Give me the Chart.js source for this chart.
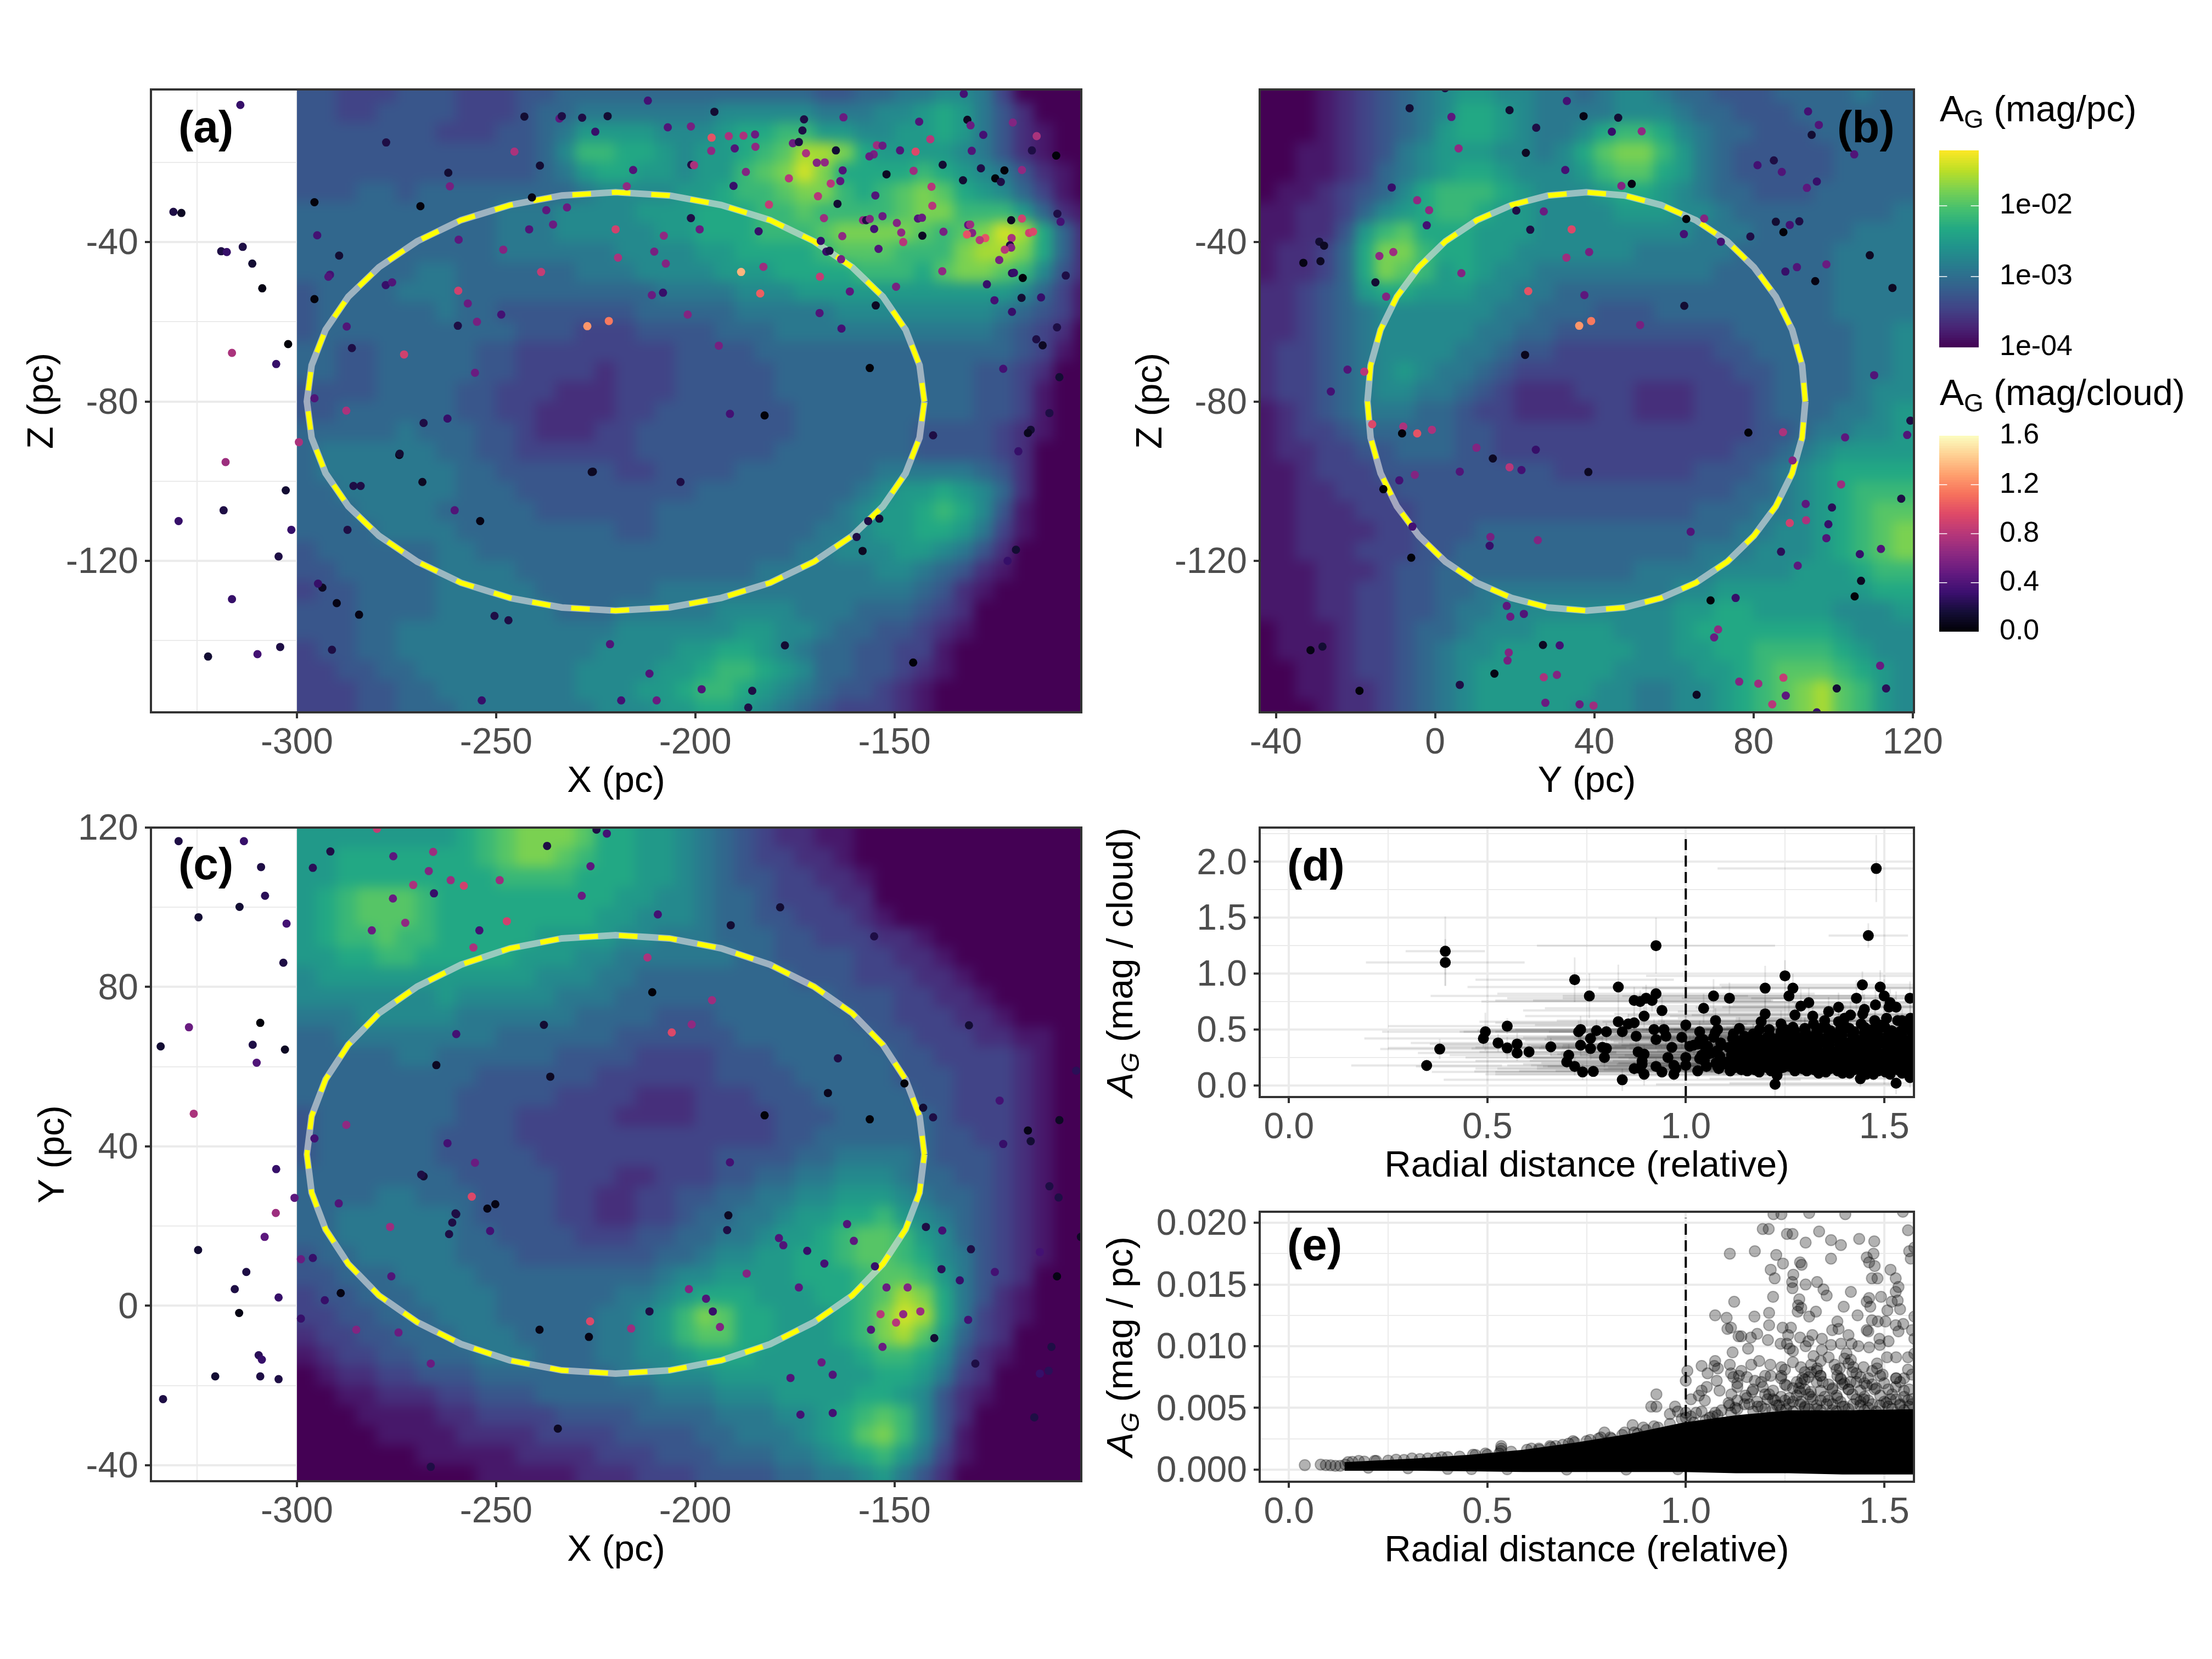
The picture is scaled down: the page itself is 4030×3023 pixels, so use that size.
<!DOCTYPE html>
<html>
<head>
<meta charset="utf-8">
<title>Extinction maps</title>
<style>
html, body { margin: 0; background: #fff; }
#page { position: relative; width: 4030px; height: 3023px; overflow: hidden; background: #fff; }
canvas { position: absolute; }
.heat { position: absolute; overflow: hidden; }
</style>
<script src="https://cdn.jsdelivr.net/npm/chart.js@4/dist/chart.umd.js"></script>
</head>
<body>
<div id="page"></div>
<script>
// heat maps: one hex digit per 5 pc cell, 0 = 1e-4 mag/pc ... f = top of the colour bar
const heatXZ = [
"4433344433 3445555555 5555554455 6677630000",
"4433444433 3455666666 6777776667 7898642000",
"4444444333 4456888877 7899aa8877 8898642100",
"4444444444 4457aa9987 889abddc98 8887642100",
"4444444444 4456899887 88abcec999 9a98764210",
"4445545555 5555677778 89aabcca9a bcb9875310",
"5555555555 6667777888 999aabaaaa bccaaa8521",
"5555555555 6667777788 999aaabccc cbabced952",
"5555555555 6666667777 889999abbb aaacddc952",
"5555556655 5555666777 78889999aa a9bccba742",
"4555566655 5555555566 6677788888 8888887531",
"4555555655 4444444555 5566666777 7777765431",
"4555555555 5444333444 4555666666 6666654320",
"5544555554 4333333334 4445555555 5555554310",
"5544555554 4333323334 4444555555 5555443200",
"4444555544 3332223334 4444555555 5555443100",
"4455555544 3322223344 4444455555 5555443100",
"5555565554 4322233444 4444455555 5444432100",
"5666666554 4333333444 4444555555 5444432000",
"5666666655 4444443344 4455555556 6666542000",
"5566666655 5444444444 5555555567 8898752000",
"5556666555 5544444455 5555555678 89a9741000",
"5555666655 5555554455 5555556678 8998631000",
"4555555665 5555555555 5555566777 8876420000",
"4455555666 6555555555 5556666667 7654210000",
"3445555666 6655555566 6666666666 6542100000",
"4445555666 6665556666 6777766655 5432000000",
"4445566666 6666667777 7788776554 4321000000",
"3445566666 6666677778 8998765544 3310000000",
"3344556666 6666777788 9aa9875544 3210000000",
"3334455666 6666777889 aa98765443 2100000000",
"3334455566 6666677788 9987654333 2100000000"
];
const heatYZ = [
"0001234567 8877665677 6554445555655",
"0001234567 9987666677 7655444555555",
"0001234568 998766 79aa 9765544455555",
"0011234678 887767 9bcc a865444445555",
"0011235678 998777 8abb 9865444445555",
"011234579a aa98777899 8765544455555",
"112235789a a988777788 8776555555556",
"112248ab99 9888777777 7766655555666",
"122359cca9 9887777776 6666555556666",
"122359cba8 9877666666 6665555556666",
"2234589988 8776655555 5555555556666",
"2234567777 7766555444 5555555556666",
"2234567777 7665544444 4444555555667",
"2334567777 6654433333 3334455555667",
"2334567876 6543333333 3333445555667",
"2334567766 5432223332 2233345555677",
"1234566655 4332222332 2233345556678",
"1233455555 4433333333 3333344566778",
"1223344555 4433333333 3333445678888",
"1123334444 4444433333 3344456789999",
"1122333444 4444444444 4444556789aaa",
"1122233344 4444444444 4455566789abb",
"1122223344 4555555555 5555667789abc",
"1122233344 5555555555 5566677789abc",
"1112223445 5555555556 66677778889aa",
"1112233445 5666666666 6778888888899",
"1112233445 6677777777 7889988887778",
"0111233455 6777888877 7899999998777",
"0111233456 7788888887 78899aaaa9877",
"0011233456 7888888877 77889abbba987",
"0011223456 7888888776 67789abcdba87",
"0001223456 7888887776 67789abcdba87"
];
const heatXY = [
"888888889a bcccb99887 6543221100 0000000000",
"889999999a bccba99887 6543322100 0000000000",
"8899999999 aaaa999887 6544332210 0000000000",
"89abbba999 9999998877 6554333220 0000000000",
"89abbba999 9999988777 6554433321 0000000000",
"89aabaa999 9988887766 6555443332 2100000000",
"8899aa9999 9888776666 6655444433 2210000000",
"7888888888 8877766555 5555544433 3221000000",
"7777777877 7776665555 5555555444 3322100000",
"6667777766 6666555544 4555555544 3332210000",
"5566666666 5555554444 4455555554 4333221100",
"5555566555 5554444333 3444555555 4433332100",
"5555555554 4444433333 3444455555 4443332100",
"5555555544 4443333222 3334445555 5443332100",
"4555555544 4333332222 3333444555 5543332100",
"4555555444 4333333333 3333445555 5544332100",
"4555555444 4433333333 3444455666 6544432100",
"5555555544 4443332233 3445566777 6554432100",
"5555665554 4443322334 4556677888 7655432100",
"5566666654 4443322334 556678899a 8765432100",
"5566666655 4444333445 5667889abb a875432100",
"4556666655 5444444455 6778899abb a976432100",
"4455566665 5555555567 78888999ab ba86432000",
"3445556666 5555556678 99988899ab dc96421000",
"3344555666 555556678a cb998889ac ed96321000",
"2334455566 655556678a bb998889ac db85320000",
"1233445556 6655566778 999888889a a974210000",
"0122334445 5555556677 7888888889 9863200000",
"0011222334 4455555566 6777888899 8742100000",
"0001111223 3334444555 56667789ab a742000000",
"0000111122 2233334444 55666789bc a741000000",
"0000001111 1222233344 455566789a 8631000000",
"0000000001 1111222333 4444556678 6420000000"
];

// clouds: [position, position, A_G in mag/cloud]
const cloudsXZ = [
[-314.2,-5.6,.3],[-331,-32.4,.2],[-329,-32.7,.1],[-319,-42.3,.2],[-317.6,-42.5,.3],[-313.6,-41.2,.2],[-311.2,-45.4,.15],[-308.7,-51.6,.05],
[-302.2,-65.6,.02],[-316.3,-67.8,.75],[-305.2,-70.6,.3],[-317.9,-95.2,.7],[-295.6,-30,.03],[-269,-31,.03],[-294.9,-38.3,.35],[-289.4,-43.4,.15],
[-291.7,-48.2,.35],[-292.1,-48.7,.4],[-277.7,-50.8,.3],[-276.1,-50.1,.4],[-295.6,-54.3,.03],[-287.5,-61.2,.4],[-286.2,-66.6,.2],[-273.1,-68.2,.9],
[-277.6,-15,.2],[-245.4,-17.3,.75],[-262,-22.6,.15],[-261.6,-26,.55],[-242.9,-8.5,.15],[-234.1,-9,.45],[-233.5,-8.4,.2],[-228.4,-8.8,.2],[-222,-8.4,.15],
[-225.1,-12.3,.3],[-211.9,-4.5,.35],[-206.9,-11.2,.4],[-239,-20.8,.15],[-215.6,-21.9,.4],[-217.2,-26,.65],[-241,-28.8,.05],[-237.4,-32,.45],[-232.2,-31.3,.5],
[-235.7,-35.6,.5],[-241.7,-36.8,.4],[-259.4,-39.4,.45],[-248.2,-41.9,.6],[-220,-36.8,.9],[-207.9,-38.4,.65],[-210.3,-42.4,.55],[-219.4,-43.9,.75],
[-207.4,-45.4,.6],[-238.7,-47.5,.85],[-259.5,-52.2,.9],[-257.1,-55.4,.5],[-248.7,-58.2,.35],[-254.8,-60,.55],[-259.6,-61,.2],[-227.1,-61.1,1.25],[-221.7,-59.8,1.15],
[-210.9,-53.3,.5],[-208.1,-52.7,.3],[-201.9,-58.2,.6],[-255.3,-72.8,.5],[-295.6,-79.2,.4],[-287.6,-82.3,.75],[-262.2,-84.3,.3],[-268.2,-85.4,.2],[-299.5,-90.2,.75],
[-274.3,-93.4,.05],[-225.7,-97.6,.1],[-132.6,-2.8,.35],[-195.2,-7.3,.15],[-172.7,-9.2,.2],[-162.8,-8.7,.5],[-143.8,-9.8,.4],[-131.7,-9.3,.1],[-130.9,-10.7,.5],
[-120.3,-10,.6],[-201.1,-11,.55],[-185,-13,.5],[-187.9,-13.3,.75],[-191.6,-13.4,.75],[-195.9,-13.8,1],[-173.1,-12,.2],[-127.7,-13.1,.35],[-114.3,-13.4,.75],
[-141,-14.2,.8],[-175.5,-15.2,.5],[-174,-14.9,.2],[-154.4,-15.7,.7],[-153,-15.8,.5],[-196,-17.1,.65],[-190.1,-16.5,.4],[-184.9,-16.1,.65],[-172.2,-17.7,.75],
[-164.7,-17,.15],[-148.6,-17,.4],[-144.7,-17.3,.95],[-130.6,-17.1,.4],[-115.5,-17,.2],[-109.4,-18.3,.02],[-155.2,-18,.55],[-156.3,-18.5,.5],[-169.5,-20.1,.6],
[-167.5,-20,.65],[-201,-20.6,.2],[-200.3,-20.7,.75],[-137.9,-20.6,.15],[-128.3,-21.5,.2],[-163,-22,.4],[-187.3,-22.4,.6],[-145.2,-22.1,.7],[-122.4,-22,.02],
[-118,-21.9,.65],[-152,-23,.1],[-176.5,-24,.8],[-163.6,-24.7,.45],[-166,-25.3,.8],[-132.8,-24.5,.15],[-124.7,-24,.02],[-123.3,-24.9,.2],[-190.4,-25.9,.3],
[-140.7,-26.1,.8],[-154.8,-28.3,.4],[-169.2,-28.5,.8],[-181.5,-30.6,.85],[-164.3,-30.4,.15],[-140.5,-30.9,.8],[-109.1,-32.9,.2],[-108.3,-34.9,.35],[-201.1,-34,.2],
[-167.7,-34,.7],[-153,-33.5,.5],[-157.9,-34.5,.65],[-157.1,-34.5,.2],[-156.2,-34.2,.6],[-144.1,-34.1,.4],[-143.1,-33.9,.5],[-149.4,-35.2,.6],[-120.7,-34.5,.1],
[-118,-34.1,.9],[-131.5,-35.7,.45],[-131,-35.6,.7],[-155.1,-36.7,.35],[-137.7,-37.4,.55],[-198.9,-36.8,.5],[-184.1,-37.3,.3],[-148.3,-37.6,.65],[-130.5,-37.7,.6],
[-116.2,-37.7,.9],[-115.2,-37.4,.95],[-131.8,-38.1,1],[-163.1,-38.5,.65],[-143,-38.4,.1],[-127.2,-39,1],[-128.6,-39.5,.8],[-120.6,-39,.75],[-147.8,-40,.8],
[-168.5,-39.7,.3],[-121,-40.8,.2],[-120.7,-41.4,.6],[-122.3,-41.9,.8],[-154,-41.7,.4],[-167.1,-42.4,.3],[-166.3,-42.2,.2],[-163.4,-44.3,.55],[-123.7,-44.5,.55],
[-182.9,-46.2,.7],[-188.5,-47.5,1.35],[-138,-47.3,.65],[-120.5,-47.8,.25],[-120,-47.7,.3],[-107,-48.4,.2],[-117.8,-49,.02],[-168.7,-48.7,.85],[-126.8,-50.6,.3],
[-149.6,-51.2,.55],[-161.2,-52.4,.45],[-183.7,-52.9,1.05],[-124.9,-54.6,.35],[-118.1,-54,.15],[-113.2,-53.9,.3],[-154.7,-55.9,.1],[-168.8,-57.8,.4],[-120.5,-57.5,.3],
[-163.3,-61.7,.35],[-109.2,-61.4,.2],[-114.4,-64.4,.2],[-112.8,-65.9,.1],[-194.1,-66,.55],[-156.2,-71.6,.02],[-122.7,-71.8,.35],[-108.6,-73.9,.15],[-191.3,-83.1,.35],
[-182.6,-83.5,.02],[-111.1,-82.9,.2],[-140.3,-88.5,.2],[-115.8,-87.1,.15],[-116.5,-87.9,.08],[-118.9,-92.5,.3],
[-318.4,-107.3,.2],[-329.7,-110,.3],[-302.8,-102.3,.15],[-301.4,-112.2,.3],[-304.6,-118.9,.2],[-316.3,-129.6,.3],[-293.6,-126.7,.1],[-290,-130.6,.05],[-294.7,-125.7,.3],
[-284.4,-133.5,.05],[-322.3,-144,.15],[-309.9,-143.4,.35],[-304.2,-141.6,.2],[-291.2,-142.3,.2],[-284,-101.2,.2],[-285.8,-101.2,.2],[-268.5,-100.2,.1],[-274.2,-93.1,.15],
[-260.4,-107.3,.4],[-254,-110,.05],[-287.3,-112.2,.2],[-250.4,-133.8,.2],[-246.9,-134.9,.2],[-253.6,-155,.3],[-221.4,-140.9,.4],[-211.5,-148.3,.4],[-218.6,-155,.35],
[-209.7,-155,.5],[-198.4,-152.2,.4],[-186.7,-156.8,.2],[-185.7,-152.6,.2],[-177.5,-141.2,.15],[-226,-97.7,.1],[-203.7,-100.2,.2],[-156.6,-110,.2],[-153.8,-109.4,.15],
[-159.5,-114,.2],[-158,-117.5,.1],[-145.3,-145.5,.02],[-121.6,-120,.3],[-119.5,-117.2,.15]
];
const cloudsYZ = [
[2.5,-1.4,.2],[33.1,-4.6,.35],[-6.4,-6.4,.15],[18.7,-6.9,.15],[4.1,-8.6,.45],[37.3,-8.4,.05],[46,-8.8,.15],[25.4,-11.3,.2],[44.4,-12.3,.3],[51.9,-12.2,.65],
[93.7,-7.2,.35],[96.4,-10.6,.4],[94.6,-13.1,.15],[105.3,-18,.4],[5.9,-16.5,.65],[22.8,-17.6,.1],[32.7,-21.9,.35],[81,-20.7,.35],[85.1,-19.5,.2],[87.1,-22.4,.4],
[49.4,-25.4,.05],[46.8,-25.9,.6],[95.9,-24.8,.3],[93.4,-26.4,.45],[-10.9,-26.3,.3],[-4.5,-29.5,.65],[-1.5,-32,.65],[20.4,-32.1,.2],[27.3,-32.3,.5],[-2.1,-35.8,.35],
[23.9,-36.9,.2],[34.3,-36.8,.95],[63.1,-34.2,.02],[67.6,-34.1,.6],[85.6,-34.9,.15],[89.1,-35.7,.35],[91.5,-34.8,.2],[87.5,-37.5,.02],[62.5,-38,.35],[79.2,-38.6,.2],
[71.8,-39.9,.35],[-29.1,-39.9,.15],[-27.9,-40.9,.1],[-28.8,-44.8,.1],[-33.1,-45.2,.05],[-10.5,-42.5,.7],[-14,-43.5,.65],[33,-43.9,.7],[38.7,-42.5,.55],[109.2,-43.3,.1],
[98.3,-45.6,.5],[90.9,-46.3,.4],[88,-47.4,.3],[6.6,-47.8,.6],[-15,-50.1,.15],[95.5,-49.8,.05],[114.9,-51.5,.1],[-12.3,-53.7,.6],[23.4,-52.3,1],[37.5,-53.3,.45],
[62.6,-56,.15],[39.2,-59.8,1.15],[36.2,-61,1.25],[51.5,-60.8,.55],[22.6,-68.3,.08],[-22,-72,.4],[-17.8,-72.5,.8],[110.3,-73.4,.4],[-26.2,-77.5,.35],[119.4,-84.8,.2],
[-15.8,-85.7,.95],[-8,-86.3,.75],[-.8,-87.1,.75],[-4.5,-88,1],[-8.3,-88,.02],[78.7,-87.8,.02],[87.4,-87.7,.75],[103,-89,.45],[118.6,-88.4,.4],[10.4,-91.6,.6],
[25.3,-92.1,.3],[14.5,-94.3,.1],[18.7,-96.5,.8],[21.7,-97.2,.35],[89.8,-94.8,.6],[6.2,-97.6,.4],[38.5,-97.7,.1],[-5.1,-98.4,.6],[-9,-99.8,.35],[-13,-102,.02],
[102,-100.8,.7],[117.1,-104.4,.2],[93.1,-105.7,.45],[99.7,-106.6,.25],[89.1,-110.5,.9],[93.2,-109.8,.75],[98.8,-110.8,.3],[-5.7,-111.4,.35],[64.2,-112.7,.4],[13.9,-114,.55],
[98.3,-114.3,.4],[25.8,-114.8,.6],[13.7,-116.2,.3],[112,-117,.4],[86.9,-117.7,.25],[106.7,-118.3,.3],[-6,-119.2,.02],[91.1,-121.2,.45],[107,-125,.1],[69.2,-129.9,.02],
[75.5,-129.3,.3],[105.4,-128.9,.02],[18,-131.3,.45],[22.3,-133.3,.4],[18.9,-134,.5],[71.1,-137.2,.65],[70.1,-139.2,.5],[-28.3,-141.5,.15],[-31.3,-142.4,.05],[27.1,-141.1,.1],
[31.3,-141.2,.35],[18.5,-143,.6],[18.2,-145,.55],[14.9,-148.3,.05],[6.2,-151.1,.2],[-19,-152.6,.02],[27.3,-149.2,.75],[30.6,-148.6,.6],[76.4,-150.3,.6],[81.2,-150.8,.7],
[87.5,-149.3,.85],[88.1,-153.8,.45],[100.9,-152,.15],[111.8,-146.3,.5],[113.3,-152,.25],[65.7,-153.6,.1],[27.7,-155.6,.5],[36.3,-156,.5],[39.8,-156.3,.7],[84.7,-156,.8],[95.9,-158,.3]
];
const cloudsXY = [
[-329.7,116.6,.2],[-313.3,116.6,.3],[-309,110.1,.2],[-308,102.9,.25],[-314.4,100.1,.15],[-324.7,97.5,.15],[-302.6,95.9,.35],[-303.4,86.1,.2],[-309.2,71,.02],[-327.1,69.9,.5],
[-311.1,65.5,.2],[-334.2,65.1,.15],[-303,64.3,.1],[-310.1,61,.4],[-325.9,48.2,.75],[-305.2,34.3,.3],[-300.6,27.1,.45],[-305.3,23.3,.7],[-279.9,119.7,.85],[-291.6,114,.2],
[-296,109.9,.25],[-275.8,112.8,.45],[-265.8,113.9,.7],[-266.9,109.1,.6],[-270.8,105.6,.75],[-261.4,106.8,.7],[-258.1,105.4,.9],[-249.1,106.8,.7],[-265.6,103.5,.3],[-275.9,102.2,.5],
[-272.8,96.1,.65],[-281.2,94.2,.5],[-254.2,94.2,.35],[-247.3,96.5,.9],[-255.7,89.9,.75],[-237.2,115.4,.2],[-224.8,119.5,.2],[-222.2,118.5,.35],[-226.3,110.3,.45],[-228.5,102.9,.5],
[-209.4,98.2,.35],[-212,87.4,.75],[-210.8,78.7,.02],[-238,70.5,.15],[-260,68.2,.35],[-265,60.4,.1],[-236.4,57.5,.1],[-205.9,68.6,.95],[-200.9,70.6,.65],[-287.6,45.4,.65],
[-295.6,42,.35],[-262.2,40.8,.35],[-255.3,35.9,.5],[-268.2,32.5,.15],[-289.5,25.7,.4],[-256.1,27.4,.95],[-250.2,25.5,.05],[-260.2,23.2,.2],[-178.7,100,.15],[-191.1,95.5,.15],
[-155.1,92.7,.2],[-195.8,76.7,.7],[-131.3,70.4,.15],[-164.2,62.1,.2],[-166.7,53.4,.08],[-147.5,55.8,.02],[-142.8,49.7,.15],[-140.3,47.3,.2],[-182.6,47.8,.02],[-156.2,46.8,.02],
[-123.6,51.5,.35],[-108.6,46.6,.1],[-116.5,44,.05],[-115.8,41.3,.15],[-122.7,40.6,.3],[-104.4,59,.25],[-191.3,36,.35],[-111.1,30,.2],[-108.8,27.2,.2],
[-308.1,17.3,.45],[-324.8,14,.15],[-312.7,8.5,.2],[-315.6,4.2,.2],[-314.5,-1.8,.05],[-320.5,-17.7,.15],[-333.6,-23.4,.2],[-309.6,-12.4,.25],[-308.8,-13.5,.3],[-309.2,-17.7,.2],
[-304.6,-18.4,.2],[-304.6,2.1,.3],[-299,11.7,.5],[-296,12,.3],[-299,-3.2,.3],[-293,1.4,.3],[-289,3.2,.05],[-276.6,19.8,.7],[-276.3,7.4,.4],[-268.8,32.9,.2],[-260,23,.2],
[-261,20.9,.2],[-261.8,18,.2],[-252.2,24.4,.05],[-251.5,18.8,.35],[-285.1,-6,.6],[-274.5,-6.7,.5],[-266.4,-14.5,.5],[-239.1,-6,.05],[-226.7,-7.8,.05],[-226.4,-3.9,.95],
[-234.5,-30.8,.1],[-216.1,-5.7,.7],[-211.5,-1.4,.2],[-191.7,22.7,.1],[-192,19,.2],[-201.6,4.2,.6],[-197.3,1.8,.4],[-195.6,-1.4,.3],[-193.8,-5.3,.6],[-187.1,8.1,.6],
[-177.9,15.2,.4],[-171.9,13.8,.3],[-179,17,.4],[-167.6,10.6,.35],[-174,4.6,.45],[-161.9,20.5,.4],[-160.2,16.3,.45],[-154.9,9.9,.3],[-152,4.6,.5],[-146.7,4.6,.6],[-153.5,-2.1,.8],
[-147.8,-2.1,.65],[-143.5,-1.4,.7],[-155.9,-6,.4],[-153,-10.3,.5],[-149.6,-4.2,.8],[-168.3,-14.2,.5],[-165.5,-17.3,.4],[-176.1,-18.1,.4],[-173.6,-27.3,.35],[-165.5,-26.9,.35],
[-142.1,19.8,.2],[-138,18.9,.35],[-130.8,14.2,.2],[-138.2,9.2,.25],[-124.8,8.5,.35],[-133.6,6.4,.3],[-131.5,-3.5,.35],[-129.7,-14.5,.2],[-140,-8.1,.15],[-113.5,13.5,.35],
[-109.2,7.4,.05],[-103.2,17.3,.1],[-110.6,-10.3,.2],[-111.3,-16.3,.25],[-113.5,-17,.3],[-114.9,-28,.2],[-266.4,-40.4,.2]
];

// shell outline, 10 degree steps
const shellX = [-142.5,-143.7,-147.2,-152.9,-160.6,-170.2,-181.2,-193.5,-206.5,-220,-233.5,-246.5,-258.8,-269.8,-279.4,-287.1,-292.8,-296.3,-297.5,-296.3,-292.8,-287.1,-279.4,-269.8,-258.8,-246.5,-233.5,-220,-206.5,-193.5,-181.2,-170.2,-160.6,-152.9,-147.2,-143.7,-142.5];
const shellY = [93,92.2,89.7,85.6,80.1,73.4,65.5,56.8,47.6,38,28.4,19.2,10.5,2.6,-4.1,-9.6,-13.7,-16.2,-17,-16.2,-13.7,-9.6,-4.1,2.6,10.5,19.2,28.4,38,47.6,56.8,65.5,73.4,80.1,85.6,89.7,92.2,93];
const shellZ = [-80,-70.9,-62,-53.7,-46.3,-39.8,-34.5,-30.7,-28.3,-27.5,-28.3,-30.7,-34.5,-39.8,-46.3,-53.7,-62,-70.9,-80,-89.1,-98,-106.3,-113.7,-120.2,-125.5,-129.3,-131.7,-132.5,-131.7,-129.3,-125.5,-120.2,-113.7,-106.3,-98,-89.1,-80];
const shellYc = [38,47.6,56.8,65.5,73.4,80.1,85.6,89.7,92.2,93,92.2,89.7,85.6,80.1,73.4,65.5,56.8,47.6,38,28.4,19.2,10.5,2.6,-4.1,-9.6,-13.7,-16.2,-17,-16.2,-13.7,-9.6,-4.1,2.6,10.5,19.2,28.4,38];

// panel d: [radial distance, A_G, x error, y error]
const radialCloud = [
[.347,.178,.19,.05],[.38,.325,.15,.09],[.394,1.2,.1,.31],[.394,1.1,.2,.21],[.495,.48,.26,.17],[.49,.42,.3,.08],[.527,.38,.22,.08],[.55,.53,.3,.07],[.55,.335,.3,.1],[.575,.37,.22,.1],
[.575,.29,.25,.07],[.605,.3,.22,.06],[.66,.345,.28,.08],[.705,.27,.3,.1],[.7,.21,.35,.06],[.72,.17,.4,.08],[.74,.12,.38,.07],[.767,.125,.3,.05],[.72,.945,.25,.2],[.757,.8,.4,.2],
[.735,.36,.36,.1],[.76,.33,.3,.1],[.76,.42,.28,.1],[.73,.48,.3,.1],[.735,.5,.25,.12],[.775,.49,.3,.1],[.8,.48,.28,.08],[.79,.34,.32,.1],[.8,.33,.25,.08],[.795,.25,.35,.09],
[.83,.57,.35,.11],[.83,.88,.38,.2],[.84,.05,.45,.1],[.84,.48,.4,.1],[.855,.55,.3,.09],[.87,.76,.35,.12],[.885,.75,.4,.1],[.9,.78,.35,.12],[.915,.76,.3,.1],[.925,.82,.4,.14],
[.925,1.25,.3,.25],[.94,.67,.35,.12],[.895,.62,.3,.1],[.87,.56,.35,.1],[.875,.44,.38,.09],[.92,.5,.35,.09],[.945,.5,.4,.08],[.95,.44,.3,.1],[.925,.41,.36,.08],[.965,.34,.4,.08],
[.88,.3,.4,.1],[.895,.28,.35,.08],[.89,.22,.42,.08],[.89,.19,.3,.07],[.885,.15,.36,.08],[.87,.15,.4,.06],[.895,.1,.4,.1],[.925,.17,.3,.07],[.94,.12,.42,.06],[.955,.25,.36,.07],
[.97,.18,.36,.07],[.97,.1,.45,.06],[.975,.15,.35,.06],[.99,.43,.4,.1],[1,.54,.38,.1],[1,.18,.45,.06],[1,.25,.4,.08],[1.01,.35,.4,.1],[1.02,.36,.42,.09],[1.03,.37,.36,.09],
[1.035,.48,.38,.1],[1.035,.4,.44,.08],[1.04,.27,.38,.08],[1.035,.24,.42,.08],[1.03,.13,.45,.07],[1.045,.69,.4,.13],[1.055,.35,.42,.09],[1.065,.29,.38,.08],[1.07,.8,.38,.15],[1.075,.58,.4,.11],
[1.08,.5,.36,.1],[1.07,.43,.42,.08],[1.09,.36,.4,.08],[1.08,.17,.44,.06],[1.1,.19,.38,.07],[1.11,.78,.42,.14],[1.12,.46,.36,.09],[1.13,.3,.44,.08],[1.14,.25,.38,.07],[1.14,.14,.42,.07],
[1.15,.2,.45,.07],[1.16,.32,.4,.08],[1.17,.45,.36,.1],[1.15,.42,.42,.09],[1.19,.57,.4,.11],[1.2,.87,.42,.2],[1.2,.64,.38,.13],[1.21,.5,.42,.1],[1.19,.38,.36,.09],[1.22,.36,.44,.08],
[1.21,.25,.38,.07],[1.23,.4,.42,.09],[1.25,.98,.35,.14],[1.26,.8,.42,.17],[1.24,.55,.4,.12],[1.27,.87,.38,.13],[1.275,.63,.42,.12],[1.25,.5,.36,.1],[1.24,.35,.42,.08],[1.26,.3,.38,.08],
[1.27,.2,.44,.07],[1.23,.09,.4,.08],[1.225,.01,.3,.12],[1.29,.71,.38,.15],[1.31,.74,.42,.13],[1.3,.5,.4,.1],[1.32,.62,.36,.12],[1.33,.48,.42,.1],[1.3,.4,.38,.09],[1.31,.25,.44,.07],
[1.33,.18,.38,.07],[1.35,.58,.42,.11],[1.36,.66,.38,.13],[1.37,.44,.42,.09],[1.38,.28,.36,.07],[1.35,.17,.44,.07],[1.385,.57,.4,.11],[1.4,.6,.42,.12],[1.385,.7,.36,.13],[1.39,.5,.42,.1],
[1.42,.39,.38,.09],[1.43,.78,.44,.16],[1.445,.9,.36,.12],[1.45,.52,.42,.1],[1.45,.68,.38,.14],[1.46,.35,.44,.08],[1.43,.22,.4,.07],[1.47,.13,.42,.07],[1.44,.06,.38,.07],[1.47,.42,.44,.09],
[1.48,1.94,.4,.3],[1.46,1.34,.1,.11],[1.49,.88,.4,.15],[1.5,.8,.38,.15],[1.515,.74,.4,.12],[1.53,.7,.42,.14],[1.565,.78,.4,.15],[1.545,.58,.42,.11],[1.565,.5,.4,.1],[1.53,.02,.42,.1],[1.565,.07,.38,.09],
[1.052,.17,.4,.06],[1.047,.22,.44,.07],[1.056,.28,.38,.07],[1.05,.33,.42,.08],[1.044,.41,.4,.09],[1.083,.15,.36,.06],[1.076,.2,.44,.07],[1.086,.26,.4,.07],[1.079,.31,.38,.08],[1.088,.38,.42,.08],[1.074,.47,.36,.1],
[1.112,.13,.44,.06],[1.106,.21,.4,.06],[1.115,.27,.38,.07],[1.108,.34,.42,.08],[1.118,.42,.4,.09],[1.144,.18,.36,.06],[1.137,.23,.44,.07],[1.146,.3,.4,.07],[1.14,.37,.38,.08],[1.148,.44,.42,.09],[1.135,.51,.38,.1],
[1.173,.14,.44,.06],[1.166,.2,.38,.06],[1.176,.26,.42,.07],[1.169,.32,.4,.07],[1.178,.39,.36,.08],[1.17,.46,.44,.09],[1.204,.16,.4,.06],[1.196,.22,.38,.07],[1.207,.28,.42,.07],[1.199,.33,.4,.08],[1.205,.43,.36,.09],
[1.233,.14,.44,.06],[1.226,.19,.4,.06],[1.236,.24,.38,.07],[1.228,.3,.42,.07],[1.238,.36,.4,.08],[1.23,.42,.36,.09],[1.24,.48,.44,.1],[1.262,.17,.4,.06],[1.255,.23,.38,.07],[1.266,.27,.42,.07],[1.258,.33,.4,.08],[1.268,.39,.36,.08],[1.26,.45,.44,.09],[1.27,.52,.4,.1],
[1.293,.15,.38,.06],[1.286,.2,.42,.06],[1.296,.26,.4,.07],[1.288,.31,.36,.07],[1.298,.37,.44,.08],[1.29,.43,.4,.09],[1.3,.51,.38,.1],[1.323,.14,.42,.06],[1.316,.19,.4,.06],[1.326,.24,.36,.07],[1.318,.29,.44,.07],[1.328,.35,.4,.08],[1.32,.41,.38,.09],[1.33,.47,.42,.1],[1.322,.55,.4,.11],
[1.353,.12,.36,.06],[1.346,.18,.44,.06],[1.356,.23,.4,.07],[1.348,.28,.38,.07],[1.358,.34,.42,.08],[1.35,.4,.4,.09],[1.36,.46,.36,.1],[1.352,.52,.44,.11],[1.383,.13,.4,.06],[1.376,.19,.38,.06],[1.386,.24,.42,.07],[1.378,.3,.4,.07],[1.388,.36,.36,.08],[1.38,.42,.44,.09],[1.39,.49,.4,.1],
[1.413,.11,.38,.06],[1.406,.17,.42,.06],[1.416,.22,.4,.06],[1.408,.27,.36,.07],[1.418,.33,.44,.08],[1.41,.38,.4,.08],[1.42,.45,.38,.09],[1.412,.51,.42,.1],[1.415,.63,.4,.12],[1.443,.12,.36,.06],[1.436,.18,.44,.06],[1.446,.23,.4,.07],[1.438,.28,.38,.07],[1.448,.34,.42,.08],[1.44,.4,.4,.09],[1.45,.47,.36,.1],[1.442,.55,.44,.11],[1.446,.64,.4,.13],
[1.473,.1,.38,.06],[1.466,.15,.42,.06],[1.476,.2,.4,.06],[1.468,.26,.36,.07],[1.478,.31,.44,.07],[1.47,.37,.4,.08],[1.48,.43,.38,.09],[1.472,.5,.42,.1],[1.476,.58,.4,.12],[1.478,.72,.36,.14],[1.503,.12,.44,.06],[1.496,.17,.4,.06],[1.506,.22,.38,.06],[1.498,.28,.42,.07],[1.508,.33,.4,.08],[1.5,.39,.36,.08],[1.51,.45,.44,.09],[1.502,.52,.4,.11],[1.506,.6,.38,.12],[1.512,.7,.42,.13],
[1.533,.14,.4,.06],[1.526,.19,.36,.06],[1.536,.24,.44,.06],[1.528,.3,.4,.07],[1.538,.36,.38,.08],[1.53,.42,.42,.09],[1.54,.48,.4,.1],[1.534,.58,.36,.11],[1.563,.13,.44,.06],[1.556,.18,.4,.06],[1.566,.23,.38,.06],[1.558,.29,.42,.07],[1.568,.35,.4,.08],[1.56,.4,.36,.08],[1.57,.47,.44,.1],[1.562,.52,.4,.1],[1.566,.6,.38,.12]
];
// the solid part of panel d, points there cannot be told apart
const radialDense = [
[1.125,.16],[1.122,.24],[1.128,.36],[1.124,.41],[1.155,.13],[1.158,.17],[1.153,.27],[1.156,.35],[1.152,.4],[1.185,.12],[1.182,.18],[1.188,.24],[1.184,.3],[1.187,.36],[1.183,.42],[1.186,.5],
[1.215,.13],[1.218,.19],[1.213,.31],[1.216,.38],[1.212,.44],[1.245,.16],[1.248,.21],[1.243,.27],[1.246,.33],[1.242,.44],[1.275,.13],[1.278,.18],[1.273,.24],[1.276,.29],[1.272,.36],[1.277,.42],[1.274,.49],
[1.305,.13],[1.308,.17],[1.303,.22],[1.306,.29],[1.302,.34],[1.307,.4],[1.304,.46],[1.335,.11],[1.338,.16],[1.333,.21],[1.336,.27],[1.332,.32],[1.337,.38],[1.334,.44],[1.339,.51],
[1.365,.15],[1.368,.2],[1.363,.26],[1.366,.31],[1.362,.37],[1.367,.43],[1.364,.49],[1.395,.11],[1.398,.16],[1.393,.21],[1.396,.27],[1.392,.33],[1.397,.39],[1.394,.45],[1.399,.54],
[1.425,.14],[1.428,.2],[1.423,.25],[1.426,.3],[1.422,.36],[1.427,.42],[1.424,.48],[1.455,.1],[1.458,.16],[1.453,.21],[1.456,.27],[1.452,.32],[1.457,.38],[1.454,.44],[1.459,.5],
[1.485,.13],[1.488,.18],[1.483,.23],[1.486,.29],[1.482,.35],[1.487,.41],[1.484,.46],[1.489,.54],[1.515,.1],[1.518,.15],[1.513,.2],[1.516,.26],[1.512,.31],[1.517,.37],[1.514,.42],[1.519,.49],
[1.545,.11],[1.548,.16],[1.543,.22],[1.546,.27],[1.542,.33],[1.547,.39],[1.544,.45],[1.549,.52],[1.575,.1],[1.572,.15],[1.574,.2],[1.571,.26],[1.573,.32],[1.575,.38],[1.572,.44],[1.574,.55],
[1.13,.2],[1.16,.23],[1.19,.28],[1.21,.18],[1.25,.38],[1.28,.34],[1.31,.36],[1.34,.24],[1.37,.22],[1.4,.29],[1.43,.34],[1.46,.24],[1.49,.26],[1.52,.34],[1.55,.3]
];

// panel e: dense band edges, then the single pixels that can be told apart
const bandR = [.14,.32,.457,.59,.725,.86,.993,1.127,1.26,1.395,1.58];
const bandTop = [.0006,.0009,.0012,.0016,.0022,.0029,.0038,.0044,.0048,.0048,.0049];
const bandBottom = [.0001,.0001,.00005,0,0,0,0,-.0001,-.0001,-.0002,-.0002];
const pixels = [
[1.221,.0207],[1.241,.0207],[1.311,.0208],[1.402,.0207],[1.547,.0209],[1.194,.0195],[1.209,.0195],[1.255,.0191],[1.269,.0191],[1.336,.0193],[1.56,.0194],[1.302,.0184],[1.366,.0186],[1.391,.0182],[1.437,.0187],[1.475,.0185],
[1.111,.0175],[1.174,.0177],[1.228,.0174],[1.366,.0171],[1.456,.0172],[1.473,.0175],[1.563,.0177],[1.576,.018],[1.567,.0171],[1.214,.0162],[1.245,.0167],[1.288,.0168],[1.292,.0166],[1.462,.0168],[1.476,.0165],[1.516,.0162],
[1.224,.0155],[1.271,.0158],[1.268,.0152],[1.269,.0147],[1.302,.015],[1.331,.0152],[1.347,.0146],[1.355,.0141],[1.416,.0144],[1.529,.0155],[1.469,.0155],[1.483,.0155],[1.536,.0148],[1.529,.0144],[1.22,.014],[1.122,.0136],
[1.286,.0138],[1.283,.0133],[1.398,.0132],[1.462,.0139],[1.456,.0136],[1.492,.014],[1.519,.0136],[1.534,.0137],[1.465,.0132],[1.508,.0129],[1.54,.013],[1.282,.0128],[1.291,.0131],[1.311,.0124],[1.328,.0128],[1.21,.0127],
[1.173,.0124],[1.074,.0125],[1.103,.0123],[1.433,.0125],[1.382,.012],[1.576,.0124],[1.21,.0117],[1.114,.0115],[1.105,.0114],[1.244,.0115],[1.265,.0115],[1.319,.0109],[1.369,.0113],[1.385,.0114],[1.456,.0113],[1.46,.0112],
[1.469,.0121],[1.484,.012],[1.503,.012],[1.529,.0117],[1.548,.0118],[1.536,.0112],[1.57,.0113],[1.133,.0108],[1.14,.0108],[1.18,.011],[1.258,.0109],[1.164,.0107],[1.207,.0105],[1.288,.0107],[1.309,.0104],[1.343,.0106],
[1.41,.0109],[1.488,.0106],[1.511,.0104],[1.576,.0106],[1.157,.0098],[1.118,.0095],[1.239,.0102],[1.255,.0102],[1.262,.0098],[1.302,.01],[1.322,.0092],[1.343,.0097],[1.366,.0101],[1.391,.0102],[1.418,.0102],[1.435,.01],
[1.462,.0099],[1.489,.0101],[1.405,.0094],[1.416,.0089],[1.507,.0091],[1.53,.0091],[1.56,.0091],[1.576,.0094],[1.04,.0084],[1.074,.0088],[1.072,.0084],[1.081,.0082],[1.055,.0078],[1.004,.008],[1,.0072],[1.111,.0085],
[1.165,.0085],[1.185,.0088],[1.213,.0085],[1.241,.0083],[1.27,.0096],[1.27,.0087],[1.316,.0085],[1.331,.0082],[1.316,.0079],[1.375,.0085],[1.388,.0082],[1.422,.0083],[1.448,.0083],[1.482,.0086],[1.482,.0082],[1.496,.0077],
[1.53,.0074],[1.55,.0074],[1.57,.0077],[1.114,.0078],[1.134,.0076],[1.154,.0075],[1.174,.0072],[1.214,.0076],[1.241,.0076],[1.28,.0071],[1.294,.0074],[1.339,.0076],[1.382,.0076],[1.391,.0073],[1.45,.007],[1.456,.0068],
[1.415,.0071],[1.078,.0072],[1.053,.0067],[1.04,.0064],[1.033,.006],[1.13,.0067],[1.085,.0064],[1.115,.0061],[1.048,.0056],[1.013,.0057],[.926,.0061],[.913,.0051],[.926,.0051],[.973,.0051],[.96,.0045],[.98,.0047],
[1,.0042],[1.013,.0043],[1.167,.0063],[1.194,.0067],[1.254,.0068],[1.288,.0063],[1.315,.0063],[1.369,.0065],[1.41,.0065],[1.476,.0065],[1.529,.0067],[1.563,.0065],[1.154,.0058],[1.206,.0057],[1.261,.0058],[1.315,.0059],
[1.382,.0058],[1.448,.0057],[1.516,.0057],[1.57,.0057],[1.074,.0046],[1.114,.0046],[1.148,.0053],[1.181,.0051],[1.235,.0052],[1.288,.0053],[1.355,.0053],[1.422,.0053],[1.489,.0052],[1.563,.0051],[1.04,.0047],[1.067,.0043],
[1.026,.0046],[1.108,.0054],[1.125,.005],[1.2,.0061],[1.225,.0056],[1.27,.0055],[1.3,.005],[1.34,.0056],[1.395,.0051],[1.44,.0055],[1.46,.005],[1.505,.0054],[1.54,.0053],[1.218,.0048],[1.253,.0049],[1.33,.0049],[1.37,.0048],
[.866,.0036],[.92,.0035],[.893,.0034],[.795,.003],[.846,.003],[.879,.0029],[.716,.0023],[.759,.0024],[.786,.0026],[.813,.0025],[.672,.0019],[.705,.0021],[.535,.0019],[.535,.0017],[.611,.0017],[.631,.0016],[.658,.0019],
[.495,.0013],[.464,.0012],[.534,.0015],[.385,.001],[.35,.0009],[.31,.0009],[.27,.0008],[.216,.0007],[.176,.0007],[.149,.0006],[.04,.00036],[.08,.0004],[.093,.00036],[.105,.00034],[.117,.0003],[.129,.0003],[.142,.0004],
[.2,.00015],[.3,.0001],[.4,.00005],[.46,.00003],[.55,.00002],[.7,0],[.85,0],[.98,.00002]
];
const pixelsBand = [
[.16,.00062],[.19,.00065],[.22,.0007],[.25,.00072],[.29,.00078],[.33,.00085],[.37,.00092],[.4,.001],[.43,.00105],[.47,.00118],[.5,.0012],[.53,.0013],[.56,.00145],[.6,.0016],[.63,.0017],[.66,.0018],[.69,.002],[.72,.0022],[.75,.0023],[.78,.0025],[.81,.0026],[.84,.0028],[.87,.003],[.9,.0032],[.93,.0034],[.96,.0037],[.99,.0041],[1,.0046],[1.02,.0038],[1.05,.004],[1.06,.0042],[1.08,.0044],
[1.09,.0048],[1.13,.0049],[1.17,.0047],[1.2,.0049],[1.24,.0048],[1.27,.0047],[1.31,.0049],[1.34,.0048],[1.38,.0047],[1.41,.0049],[1.45,.0048],[1.48,.0047],[1.52,.0049],[1.55,.0048],
[1.11,.0052],[1.16,.0053],[1.19,.0051],[1.23,.0052],[1.26,.0053],[1.3,.0051],[1.33,.0052],[1.37,.0053],[1.4,.0051],[1.44,.0052],[1.47,.0053],[1.51,.0051],[1.54,.0052],[1.57,.0053],
[1.13,.0056],[1.18,.0055],[1.22,.0057],[1.25,.0056],[1.29,.0055],[1.32,.0057],[1.36,.0056],[1.39,.0055],[1.43,.0057],[1.46,.0056],[1.5,.0055],[1.53,.0057],[1.56,.0056],
[1.15,.006],[1.21,.0061],[1.24,.0059],[1.28,.006],[1.31,.0061],[1.35,.0059],[1.38,.006],[1.42,.0061],[1.45,.0059],[1.49,.006],[1.52,.0061],[1.55,.0059],
[1.17,.0065],[1.22,.0064],[1.27,.0066],[1.3,.0065],[1.34,.0064],[1.37,.0066],[1.41,.0065],[1.44,.0064],[1.48,.0066],[1.51,.0065],[1.55,.0064],
[1.13,.007],[1.19,.0071],[1.25,.0069],[1.29,.007],[1.33,.0071],[1.36,.0069],[1.4,.007],[1.43,.0071],[1.47,.0069],[1.5,.007],[1.54,.0071],
[1.12,.0075],[1.2,.0076],[1.24,.0074],[1.31,.0075],[1.34,.0076],[1.39,.0074],[1.44,.0075],[1.49,.0076],[1.53,.0074],
[1.14,.008],[1.25,.0081],[1.3,.0079],[1.33,.008],[1.38,.0081],[1.42,.0079],[1.47,.008],[1.56,.0081],
[1.29,.0083],[1.34,.0088],[1.36,.0091],[1.4,.009],[1.41,.0086],[1.43,.0078],[1.46,.0074],[1.3,.0073],[1.285,.0066],[1.345,.0071],[1.395,.0069]
];

// axis ticks
const xTicksSun = [-300,-250,-200,-150];
const xMinorSun = [-325,-275,-225,-175,-125];
const zTicks = [-40,-80,-120];
const zMinor = [-20,-60,-100,-140];
const yTicksWide = [-40,0,40,80,120];
const yMinorWide = [-20,20,60,100];
const radialTicks = [0,.5,1,1.5];
const radialMinor = [.25,.75,1.25];
const cloudTicks = [0,.5,1,1.5,2];
const cloudMinor = [.25,.75,1.25,1.75,2.25];
const pcTicks = [0,.005,.01,.015,.02];
const pcMinor = [.0025,.0075,.0125,.0175];
const pcBarTicks = [-4,-3,-2];
const cloudBarTicks = [0,.4,.8,1.2,1.6];

const viridisStops = ['#440154','#482475','#414487','#355f8d','#2a788e','#21918c','#22a884','#44bf70','#7ad151','#bddf26','#fde725'];
const magmaStops = ['#000004','#140e36','#3b0f70','#641a80','#8c2981','#b73779','#de4968','#f7705c','#fe9f6d','#fecf92','#fcfdbf'];
const logTop = -1.217;

Chart.defaults.font.family = '"Liberation Sans", Arial, sans-serif';
Chart.defaults.animation = false;
Chart.defaults.responsive = false;
Chart.defaults.events = [];

function ramp(stops, t) {
    t = Math.max(0, Math.min(1, t)) * (stops.length - 1);
    const i = Math.min(Math.floor(t), stops.length - 2);
    const f = t - i;
    const a = stops[i], b = stops[i + 1];
    const rgb = [1, 3, 5].map(k => Math.round(parseInt(a.substr(k, 2), 16) * (1 - f) + parseInt(b.substr(k, 2), 16) * f));
    return `rgb(${rgb.join(',')})`;
}

// small plugin: panel frame and the text the axes cannot set (subscripts, tags)
const decor = {
    id: 'decor',
    afterDraw(chart, args, opts) {
        const ctx = chart.ctx, a = chart.chartArea;
        if (opts.frame) {
            ctx.save();
            ctx.strokeStyle = '#333333';
            ctx.lineWidth = 4;
            ctx.strokeRect(a.left, a.top, a.right - a.left, a.bottom - a.top);
            ctx.restore();
        }
        for (const item of opts.text || []) {
            ctx.save();
            ctx.translate(a.left + item.x, (item.mid ? (a.top + a.bottom) / 2 : a.top) + item.y);
            ctx.rotate(item.rot || 0);
            ctx.textBaseline = 'alphabetic';
            ctx.fillStyle = '#000';
            let w = 0;
            for (const r of item.runs) { ctx.font = r.font; w += ctx.measureText(r.t).width; }
            let x = item.mid ? -w / 2 : 0;
            for (const r of item.runs) {
                ctx.font = r.font;
                ctx.fillText(r.t, x, r.dy || 0);
                x += ctx.measureText(r.t).width;
            }
            ctx.restore();
        }
    }
};
Chart.register(decor);

const FONT = '"Liberation Sans", Arial, sans-serif';
const page = document.getElementById('page');

function axis(o) {
    const all = o.major.concat(o.minor).sort((p, q) => p - q);
    const isMajor = v => o.major.some(m => Math.abs(m - v) < 1e-9);
    return {
        type: 'linear',
        min: o.min,
        max: o.max,
        offset: false,
        afterBuildTicks: s => { s.ticks = all.map(v => ({value: v})); },
        afterFit: s => { if (o.width) s.width = o.width; if (o.height) s.height = o.height; },
        grid: {
            offset: false,
            color: '#EBEBEB',
            lineWidth: c => (c.tick && isMajor(c.tick.value)) ? 4 : 2,
            tickColor: c => (c.tick && isMajor(c.tick.value)) ? '#333333' : 'rgba(0,0,0,0)',
            tickWidth: 4,
            tickLength: 11
        },
        border: {display: false},
        ticks: {
            autoSkip: false,
            maxRotation: 0,
            minRotation: 0,
            padding: o.pad,
            color: '#4D4D4D',
            // y labels sit a little low in the original: an empty first line with a tiny line height nudges them down
            font: o.width ? {size: 66, lineHeight: .12} : {size: 66},
            callback: v => isMajor(v) ? (o.width ? ['', o.fmt(v)] : o.fmt(v)) : ''
        },
        title: o.title ? {display: true, text: o.title, color: '#000', font: {size: 67}, padding: 0} : {display: false}
    };
}

const padTop = 50, padRight = 80;

function addCanvas(box) {
    const c = document.createElement('canvas');
    c.width = box.r - box.l + box.yw + padRight;
    c.height = box.b - box.t + padTop + box.xh;
    c.style.left = (box.l - box.yw) + 'px';
    c.style.top = (box.t - padTop) + 'px';
    page.appendChild(c);
    return c;
}

// axes and grid only, or everything when there is no heat map underneath
function panel(box, type, datasets, xOpt, yOpt, decorOpts) {
    return new Chart(addCanvas(box).getContext('2d'), {
        type: type,
        data: {datasets: datasets},
        options: {
            layout: {padding: {top: padTop, right: padRight, left: 0, bottom: 0}},
            scales: {
                x: axis(Object.assign({height: box.xh, pad: 6}, xOpt)),
                y: axis(Object.assign({width: box.yw, pad: 12}, yOpt))
            },
            plugins: {legend: {display: false}, tooltip: {enabled: false}, decor: decorOpts}
        }
    });
}

// clouds, shell and frame go on a second canvas above the heat map
function overlay(box, datasets, xOpt, yOpt, text) {
    return new Chart(addCanvas(box).getContext('2d'), {
        type: 'scatter',
        data: {datasets: datasets},
        options: {
            layout: {padding: {top: padTop, right: padRight, left: box.yw, bottom: box.xh}},
            scales: {
                x: {type: 'linear', min: xOpt.min, max: xOpt.max, display: false},
                y: {type: 'linear', min: yOpt.min, max: yOpt.max, display: false}
            },
            plugins: {legend: {display: false}, tooltip: {enabled: false}, decor: {frame: true, text: text}}
        }
    });
}

// heat map on its own soft canvas, cropped to the part of the panel it fills
function heatLayer(box, rows, x0, yTop, xOpt, yOpt) {
    const margin = 90;
    const xLow = Math.max(x0, xOpt.min);
    const left = box.l + (xLow - xOpt.min) / (xOpt.max - xOpt.min) * (box.r - box.l);
    const width = box.r - left, height = box.b - box.t;
    const wrap = document.createElement('div');
    wrap.className = 'heat';
    wrap.style.cssText = `left:${left}px;top:${box.t}px;width:${width}px;height:${height}px`;
    const c = document.createElement('canvas');
    c.width = width + 2 * margin;
    c.height = height + 2 * margin;
    c.style.left = -margin + 'px';
    c.style.top = -margin + 'px';
    c.style.filter = 'blur(11px)';
    wrap.appendChild(c);
    page.appendChild(wrap);

    const lines = rows.map(r => r.replace(/ /g, ''));
    const cells = [], colors = [];
    // two spare rings of cells so the soft edge falls outside the crop
    for (let r = -2; r < lines.length + 2; r++) {
        const line = lines[Math.max(0, Math.min(lines.length - 1, r))];
        for (let k = -2; k < line.length + 2; k++) {
            const d = line[Math.max(0, Math.min(line.length - 1, k))];
            cells.push({x: x0 + 5 * (k + .5), y: [yTop - 5 * (r + 1) - .15, yTop - 5 * r]});
            colors.push(ramp(viridisStops, parseInt(d, 16) / 15));
        }
    }
    return new Chart(c.getContext('2d'), {
        type: 'bar',
        data: {datasets: [{data: cells, backgroundColor: colors, barThickness: 37.5, borderWidth: 0, clip: false}]},
        options: {
            layout: {padding: margin},
            scales: {
                x: {type: 'linear', min: xLow, max: xOpt.max, offset: false, display: false},
                y: {type: 'linear', min: yOpt.min, max: yOpt.max, display: false}
            },
            plugins: {legend: {display: false}, tooltip: {enabled: false}}
        }
    });
}

function cloudDataset(list) {
    return {
        type: 'scatter',
        data: list.map(p => ({x: p[0], y: p[1]})),
        pointRadius: 7.5,
        pointBorderWidth: 0,
        pointBackgroundColor: list.map(p => ramp(magmaStops, p[2] / 1.6)),
        order: 1
    };
}

function shellDatasets(xs, ys) {
    const pts = xs.map((x, i) => ({x: x, y: ys[i]}));
    return [
        {type: 'line', data: pts, borderColor: '#ffff00', borderWidth: 9, borderDash: [34, 38], pointRadius: 0, tension: 0, fill: false, order: 2},
        {type: 'line', data: pts, borderColor: 'rgba(225,225,225,.62)', borderWidth: 12, pointRadius: 0, tension: 0, fill: false, order: 3}
    ];
}

function mapPanel(box, rows, x0, yTop, clouds, shellA, shellB, xOpt, yOpt, label) {
    panel(box, 'scatter', [], xOpt, yOpt, {});
    heatLayer(box, rows, x0, yTop, xOpt, yOpt);
    overlay(box, [cloudDataset(clouds)].concat(shellDatasets(shellA, shellB)), xOpt, yOpt, [label]);
}

const tag = (t, x, y) => ({x: x, y: y, runs: [{t: t, font: 'bold 82px ' + FONT}]});
const whole = v => String(v);
const oneDec = v => v.toFixed(1);
const threeDec = v => v.toFixed(3);

const xSun = {min: -336.64, max: -103.1, major: xTicksSun, minor: xMinorSun, fmt: whole, title: 'X (pc)'};
const zAxis = {min: -158, max: -1.7, major: zTicks, minor: zMinor, fmt: whole, title: 'Z (pc)'};

mapPanel({l: 275, t: 163, r: 1970, b: 1298, yw: 238, xh: 167}, heatXZ, -300, 0, cloudsXZ, shellX, shellZ,
    xSun, zAxis, tag('(a)', 50, 96));

mapPanel({l: 2295, t: 163, r: 3487, b: 1298, yw: 238, xh: 167}, heatYZ, -45, 0, cloudsYZ, shellY, shellZ,
    {min: -44.07, max: 120.3, major: yTicksWide, minor: yMinorWide, fmt: whole, title: 'Y (pc)'}, zAxis, tag('(b)', 1052, 96));

mapPanel({l: 275, t: 1508, r: 1970, b: 2699, yw: 218, xh: 167}, heatXY, -300, 120, cloudsXY, shellX, shellYc,
    xSun, {min: -44, max: 120, major: yTicksWide, minor: yMinorWide, fmt: whole, title: 'Y (pc)'}, tag('(c)', 50, 94));

const shellMark = (top, bottom) => ({type: 'line', data: [{x: 1, y: bottom}, {x: 1, y: top}], borderColor: '#000', borderWidth: 4, borderDash: [20, 10], pointRadius: 0, tension: 0, order: 0});

const errorBars = [];
radialCloud.forEach(p => {
    errorBars.push({type: 'line', data: [{x: p[0] - p[2], y: p[1]}, {x: p[0] + p[2], y: p[1]}], borderColor: 'rgba(0,0,0,.095)', borderWidth: 4, pointRadius: 0, tension: 0, order: 3});
    errorBars.push({type: 'line', data: [{x: p[0], y: p[1] - p[3]}, {x: p[0], y: p[1] + p[3]}], borderColor: 'rgba(0,0,0,.095)', borderWidth: 3, pointRadius: 0, tension: 0, order: 3});
});

const aSubTitle = tail => [
    {t: 'A', font: 'italic 67px ' + FONT},
    {t: 'G', font: 'italic 47px ' + FONT, dy: 12},
    {t: tail, font: '67px ' + FONT}
];

panel({l: 2295, t: 1508, r: 3487, b: 1999, yw: 290, xh: 167}, 'scatter',
    [shellMark(2.24, -.104),
     {type: 'scatter', data: radialCloud.concat(radialDense).map(p => ({x: p[0], y: p[1]})), pointRadius: 10, pointBorderWidth: 0, pointBackgroundColor: '#000', order: 1}].concat(errorBars),
    {min: -.0737, max: 1.575, major: radialTicks, minor: radialMinor, fmt: oneDec, title: 'Radial distance (relative)'},
    {min: -.104, max: 2.306, major: cloudTicks, minor: cloudMinor, fmt: oneDec},
    {frame: true, text: [tag('(d)', 50, 96), {x: -232, y: 0, mid: true, rot: -Math.PI / 2, runs: aSubTitle(' (mag / cloud)')}]});

panel({l: 2295, t: 2208, r: 3487, b: 2700, yw: 290, xh: 167}, 'scatter',
    [shellMark(.0204, -.00099),
     {type: 'scatter', data: pixels.concat(pixelsBand).map(p => ({x: p[0], y: p[1]})), pointRadius: 10, pointBorderWidth: 2, pointBackgroundColor: 'rgba(0,0,0,.3)', pointBorderColor: 'rgba(0,0,0,.3)', order: 1},
     {type: 'line', data: bandR.map((r, i) => ({x: r, y: bandTop[i]})), borderWidth: 0, pointRadius: 0, tension: 0, backgroundColor: '#000', fill: '+1', order: 2},
     {type: 'line', data: bandR.map((r, i) => ({x: r, y: bandBottom[i] - .0002})), borderWidth: 0, pointRadius: 0, tension: 0, order: 2}],
    {min: -.0737, max: 1.575, major: radialTicks, minor: radialMinor, fmt: oneDec, title: 'Radial distance (relative)'},
    {min: -.00099, max: .0209, major: pcTicks, minor: pcMinor, fmt: threeDec},
    {frame: true, text: [tag('(e)', 50, 88), {x: -232, y: 0, mid: true, rot: -Math.PI / 2, runs: aSubTitle(' (mag / pc)')}]});

// colour bars
function colourBar(box, stops, lo, hi, tickVals, fmt, title) {
    const barTop = 130, canvasExtra = 40;
    const c = document.createElement('canvas');
    c.width = 487;
    c.height = box.b - box.t + barTop + canvasExtra;
    c.style.left = box.l + 'px';
    c.style.top = (box.t - barTop) + 'px';
    page.appendChild(c);
    const cells = [], colors = [], n = 80;
    for (let i = 0; i < n; i++) {
        cells.push({x: .5, y: [lo + (hi - lo) * i / n, lo + (hi - lo) * (i + 1.3) / n]});
        colors.push(ramp(stops, (i + .5) / n));
    }
    const marks = [];
    tickVals.forEach(v => {
        if (v === lo || v === hi) return;
        [[0, .2], [.8, 1]].forEach(s => marks.push({type: 'line', data: [{x: s[0], y: v}, {x: s[1], y: v}], borderColor: '#fff', borderWidth: 1.5, pointRadius: 0, order: 0}));
    });
    new Chart(c.getContext('2d'), {
        type: 'bar',
        data: {datasets: marks.concat([{type: 'bar', data: cells, backgroundColor: colors, barThickness: 72, borderWidth: 0, order: 1}])},
        options: {
            layout: {padding: {top: barTop, bottom: canvasExtra}},
            scales: {
                x: {type: 'linear', min: 0, max: 1, offset: false, display: false},
                y: {
                    type: 'linear', min: lo, max: hi, position: 'right',
                    afterBuildTicks: s => { s.ticks = tickVals.map(v => ({value: v})); },
                    // the end labels may stick out past the bar, they must not shrink it
                    afterFit: s => { s.width = 415; s.paddingTop = 0; s.paddingBottom = 0; },
                    grid: {display: false, drawTicks: false},
                    border: {display: false},
                    ticks: {padding: 38, color: '#000', font: {size: 52}, autoSkip: false, callback: fmt}
                }
            },
            plugins: {legend: {display: false}, tooltip: {enabled: false}, decor: {text: [{x: title.x, y: title.y, runs: title.runs}]}}
        }
    });
}

const legendTitle = tail => [
    {t: 'A', font: '66px ' + FONT},
    {t: 'G', font: '46px ' + FONT, dy: 12},
    {t: tail, font: '66px ' + FONT}
];

colourBar({l: 3533, t: 274, b: 633.6}, viridisStops, -4, logTop, pcBarTicks,
    v => '1e-0' + Math.abs(v),
    {x: 1, y: -53, runs: legendTitle(' (mag/pc)')});
colourBar({l: 3533, t: 794, b: 1151.5}, magmaStops, 0, 1.6, cloudBarTicks,
    v => v.toFixed(1),
    {x: 1, y: -56, runs: legendTitle(' (mag/cloud)')});
</script>
</body>
</html>
